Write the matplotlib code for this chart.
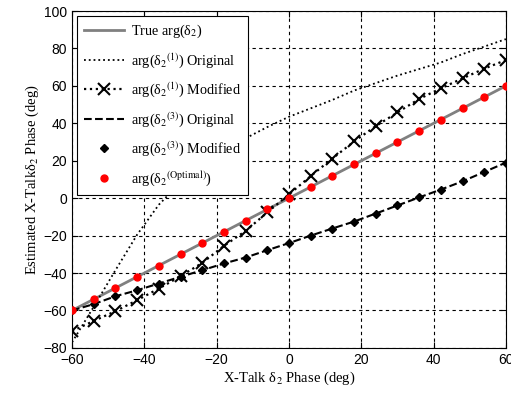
import matplotlib
matplotlib.use('Agg')
import matplotlib.pyplot as plt
import numpy as np

plt.rcParams['font.family'] = ['Liberation Serif', 'DejaVu Serif']
plt.rcParams['mathtext.fontset'] = 'stix'

# true phase, sampled every 6 deg
phase = np.arange(-60, 61, 6)

orig1 = [-77, -58, -38.5, -19.5, -3.5, 8.5, 18, 26, 32, 38, 43.5,
         48, 52.5, 57.5, 61.5, 65.5, 69, 72.5, 77, 81, 85]
mod1 = [-71, -65.6, -60.4, -54.5, -48.3, -41.7, -34.6, -25.5, -17.5, -7.6, 2,
        11.8, 21.2, 30.3, 38.5, 45.8, 53, 58.7, 64, 69.2, 73.8]
orig3 = [-60, -56.6, -52.4, -49.2, -45.6, -42, -38.5, -34.9, -31.7, -27.8, -24,
         -20, -16.2, -12.5, -8.2, -3.9, 0.4, 4.6, 9, 14, 19]
mod3 = orig3
optimal = phase

fig = plt.figure(figsize=(5.11, 3.94), dpi=100)
ax = fig.add_axes([0.141, 0.117, 0.849, 0.855])

ax.plot(phase, phase, color='#808080', lw=2, label=r'True arg(δ$_2$)', zorder=2)
ax.plot(phase, orig1, color='k', ls=':', lw=1.3,
        label=r'arg(δ$_2$$^{(1)}$) Original', zorder=3)
ax.plot(phase, mod1, color='k', ls=':', lw=1.6, marker='x', ms=8, mew=1.5,
        label=r'arg(δ$_2$$^{(1)}$) Modified', zorder=3)
ax.plot(phase, orig3, color='k', ls='--', lw=1.5,
        label=r'arg(δ$_2$$^{(3)}$) Original', zorder=3)
ax.plot(phase, mod3, color='k', ls='none', marker='D', ms=4,
        label=r'arg(δ$_2$$^{(3)}$) Modified', zorder=4)
ax.plot(phase, optimal, color='red', ls='none', marker='o', ms=5,
        label=r'arg(δ$_2$$^{(\mathrm{Optimal})}$)', zorder=5)

ax.set_xlim(-60, 60)
ax.set_ylim(-80, 100)
ax.set_xticks(np.arange(-60, 61, 20))
ax.set_yticks(np.arange(-80, 101, 20))
ax.grid(True, color='k', ls=(0, (3, 3)), lw=0.8)
ax.tick_params(direction='in', length=4, labelsize=10, top=True, right=True)
for lab in ax.get_xticklabels() + ax.get_yticklabels():
    lab.set_family('Liberation Sans')

ax.set_xlabel(r'X-Talk δ$_2$ Phase (deg)', fontsize=10.5, labelpad=2)
ax.set_ylabel(r'Estimated X-Talkδ$_2$ Phase (deg)', fontsize=10.5, labelpad=2)

leg = ax.legend(loc='upper left', fontsize=10.2, fancybox=False, framealpha=1,
                edgecolor='k', borderaxespad=0.35, handlelength=2.8,
                handletextpad=0.5, labelspacing=0.75, borderpad=0.5)
leg.get_frame().set_linewidth(0.8)

fig.savefig('out.png', dpi=100)
